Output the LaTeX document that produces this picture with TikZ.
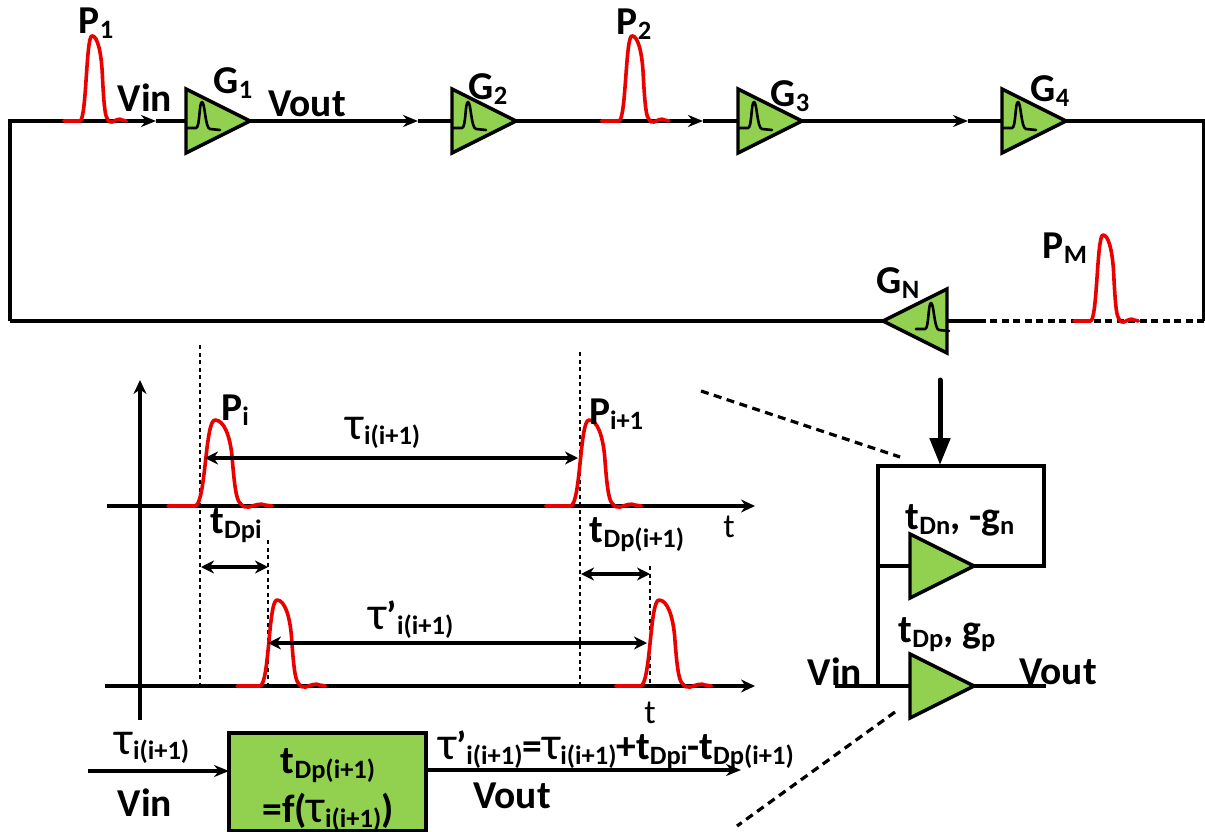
\documentclass[tikz,border=0pt]{standalone}
\usepackage{fontspec}
\setmainfont{Carlito}
\usetikzlibrary{arrows.meta,shapes.geometric}
\newcommand\sbs[1]{\raisebox{-5pt}{\fontsize{26.5}{26.5}\selectfont #1}}
\newcommand\tauc{{\fontsize{47}{47}\selectfont\mdseries τ}}
\newcommand\TXT{\fontsize{39.5}{40}\selectfont\bfseries}
\tikzset{
  wire/.style={draw=black,line width=3.2pt},
  arrowwire/.style={wire,-{Stealth[length=15pt,width=12pt]}},
  dblarrow/.style={wire,{Stealth[length=13pt,width=13pt]}-{Stealth[length=13pt,width=13pt]}},
  dotted wire/.style={draw=black,line width=2.8pt,dash pattern=on 4pt off 3.5pt},
  loop dash/.style={draw=black,line width=3.2pt,dash pattern=on 7pt off 4.5pt},
  slant dash/.style={draw=black,line width=3.2pt,dash pattern=on 8pt off 5.5pt},
  amp/.style={isosceles triangle,isosceles triangle apex angle=53.13,isosceles triangle stretches,
     minimum width=64pt,minimum height=64pt,inner sep=0pt,outer sep=0pt,draw=black,line width=3.4pt,fill=ampgreen,line join=miter},
  lbl/.style={inner sep=0pt,outer sep=0pt,font=\TXT,text=black},
  pulse/.pic={\draw[red!92!black,line width=3.6pt,line cap=round,line join=round]
     (-47,0) -- (-20,0) .. controls (-9,-2) and (-10,-86) .. (0,-86)
     .. controls (9,-86) and (15,-70) .. (17,-50)
     .. controls (19,-25) and (21,-6) .. (25,-3)
     .. controls (28,1) and (31,2) .. (34,1)
     .. controls (40,-1) and (46,-3) .. (50,-1) -- (57,0);},
  minip/.pic={\draw[black,line width=2.6pt,line cap=round,line join=round]
     (-15,26) -- (-6,26) .. controls (-2,26) and (-3,0) .. (0,0)
     .. controls (3,0) and (3,26) .. (8,27) -- (18,28);}
}
\definecolor{ampgreen}{HTML}{92D050}
\begin{document}
\begin{tikzpicture}[x=1pt,y=-1pt]
\useasboundingbox (0,0) rectangle (1205,832);
% amps
\node[amp,anchor=apex] (g1) at (250,121) {};
\node[amp,anchor=apex] (g2) at (516,121) {};
\node[amp,anchor=apex] (g3) at (802,121) {};
\node[amp,anchor=apex] (g4) at (1066,121) {};
\node[amp,anchor=apex,shape border rotate=180] (gn) at (883,321) {};
\node[amp,anchor=apex] (an) at (974,566) {};
\node[amp,anchor=apex] (ap) at (974,686) {};
% loop
\coordinate (tl) at (10,121); \coordinate (bl) at (10,321);
\coordinate (tr) at (1204,121); \coordinate (br) at (1204,321);
\coordinate (a1) at (156,121); \coordinate (a2) at (418,121);
\coordinate (a3) at (703,121); \coordinate (a4) at (968,121);
\coordinate (ds) at (982,321);
\draw[arrowwire] (bl) -- (tl) -- (a1);
\draw[wire] (a1) -- (g1.lower side);
\draw[arrowwire] (g1.apex) -- (a2);
\draw[wire] (a2) -- (g2.lower side);
\draw[arrowwire] (g2.apex) -- (a3);
\draw[wire] (a3) -- (g3.lower side);
\draw[arrowwire] (g3.apex) -- (a4);
\draw[wire] (a4) -- (g4.lower side);
\draw[wire] (g4.apex) -- (tr) -- (br);
\draw[loop dash] (br) -- (ds);
\draw[wire] (ds) -- (gn.lower side);
\draw[wire] (gn.apex) -- (bl);
% pulses on loop
\pic[xscale=.6,yscale=.99] at (92,121) {pulse};
\pic[xscale=.65,yscale=.99] at (632,121) {pulse};
\pic[xscale=.62,yscale=1] at (1103,321) {pulse};
\pic at (202,102) {minip};
\pic at (468,102) {minip};
\pic at (754,102) {minip};
\pic at (1018,102) {minip};
\pic at (931,303) {minip};
% loop labels
\node[lbl] (p1) at (96,23) {P\sbs{1}};
\node[lbl] (vin1) at (145,98) {Vin};
\node[lbl] (lg1) at (233,83) {G\sbs{1}};
\node[lbl] (vout1) at (307,104) {Vout};
\node[lbl] (lg2) at (488,89) {G\sbs{2}};
\node[lbl] (p2) at (634,24) {P\sbs{2}};
\node[lbl] (lg3) at (790,96) {G\sbs{3}};
\node[lbl] (lg4) at (1050,91) {G\sbs{4}};
\node[lbl] (pm) at (1065,248) {P\sbs{M}};
\node[lbl] (lgn) at (898,283) {G\sbs{N}};
% waveform axes
\coordinate (yb) at (140,720); \coordinate (yt) at (140,380);
\coordinate (x1l) at (107,506); \coordinate (x1r) at (755,506);
\coordinate (x2l) at (105,686); \coordinate (x2r) at (755,686);
\draw[wire,-{Stealth[length=14pt,width=13pt]}] (yb) -- (yt);
\draw[wire,-{Stealth[length=14pt,width=13pt]}] (x1l) -- (x1r);
\draw[wire,-{Stealth[length=14pt,width=13pt]}] (x2l) -- (x2r);
% dashed verticals
\coordinate (d1t) at (200,345); \coordinate (d1b) at (200,686);
\coordinate (d2t) at (580,352); \coordinate (d2b) at (580,686);
\coordinate (d3t) at (268,540); \coordinate (d3b) at (268,686);
\coordinate (d4t) at (650,566); \coordinate (d4b) at (650,686);
\draw[dotted wire] (d1t) -- (d1b);
\draw[dotted wire] (d2t) -- (d2b);
\draw[dotted wire] (d3t) -- (d3b);
\draw[dotted wire] (d4t) -- (d4b);
% wave pulses
\pic at (215,506) {pulse};
\pic[xscale=.92] at (589,506) {pulse};
\pic[xscale=.85] at (277,686) {pulse};
\pic[xscale=.92] at (659,686) {pulse};
% dimension arrows
\coordinate (t1a) at (205,458); \coordinate (t1b) at (578,458);
\coordinate (t2a) at (201,567); \coordinate (t2b) at (268,567);
\coordinate (t3a) at (268,643); \coordinate (t3b) at (647,643);
\coordinate (t4a) at (581,574); \coordinate (t4b) at (650,574);
\draw[dblarrow] (t1a) -- (t1b);
\draw[dblarrow] (t2a) -- (t2b);
\draw[dblarrow] (t3a) -- (t3b);
\draw[dblarrow] (t4a) -- (t4b);
% wave labels
\node[lbl] (pi) at (235,410) {P\sbs{i}};
\node[lbl,anchor=base west] (pip) at (589,424) {P\sbs{i+1}};
\node[lbl] (tau1) at (383,433) {\tauc\sbs{i(i+1)}};
\node[lbl] (tdpi) at (236,526) {t\sbs{Dpi}};
\node[lbl] (tdp1) at (637,535) {t\sbs{Dp(i+1)}};
\node[lbl] (tau2) at (411,620) {\tauc’\sbs{i(i+1)}};
\node[lbl,font=\fontsize{34}{36}\selectfont] (t1) at (729,527) {t};
\node[lbl,font=\fontsize{34}{36}\selectfont] (t2) at (650,713) {t};
% function block
\node[draw=black,line width=3.5pt,fill=ampgreen,minimum width=197pt,minimum height=98pt,inner sep=0pt,outer sep=0pt,anchor=north west] (fb) at (229,733) {};
\node[lbl] (fb1) at (328,766) {t\sbs{Dp(i+1)}};
\node[lbl] (fb2) at (328,812) {=f(\tauc\sbs{i(i+1)})};
\coordinate (in) at (88,771); \coordinate (out) at (741,770);
\draw[arrowwire] (in) -- (fb.west |- in);
\draw[arrowwire] (fb.east |- out) -- (out);
\node[lbl] (taul) at (152,748) {\tauc\sbs{i(i+1)}};
\node[lbl] (vinb) at (145,803) {Vin};
\node[lbl] (voutb) at (512,796) {Vout};
\node[lbl,anchor=base west] (eq) at (438,759) {\tauc’\sbs{i(i+1)}=\tauc\sbs{i(i+1)}+t\sbs{Dpi}-t\sbs{Dp(i+1)}};
% detail circuit
\coordinate (cl) at (878,466); \coordinate (cr) at (1044,466);
\coordinate (crb) at (1044,566); \coordinate (cj) at (878,566);
\coordinate (cb) at (878,686); \coordinate (vi) at (835,686); \coordinate (vo) at (1046,686);
\draw[wire,line join=miter] (an.apex) -- (crb) -- (cr) -- (cl) -- (cb);
\draw[wire] (cj) -- (an.lower side);
\draw[wire] (vi) -- (ap.lower side);
\draw[wire] (ap.apex) -- (vo);
\coordinate (ft) at (940,380); \coordinate (fe) at (940,465);
\draw[draw=black,line width=5pt,line cap=round,-{Stealth[length=27pt,width=20pt,inset=0pt]}] (ft) -- (fe);
\coordinate (s1a) at (701,391); \coordinate (s1b) at (900,457);
\coordinate (s2a) at (895,712); \coordinate (s2b) at (737,826);
\draw[slant dash] (s1a) -- (s1b);
\draw[slant dash] (s2a) -- (s2b);
\node[lbl] (ldn) at (960,520) {t\sbs{Dn}, -g\sbs{n}};
\node[lbl] (ldp) at (947,635) {t\sbs{Dp}, g\sbs{p}};
\node[lbl] (vinr) at (835,672) {Vin};
\node[lbl] (voutr) at (1058,672) {Vout};
\end{tikzpicture}
\end{document}
